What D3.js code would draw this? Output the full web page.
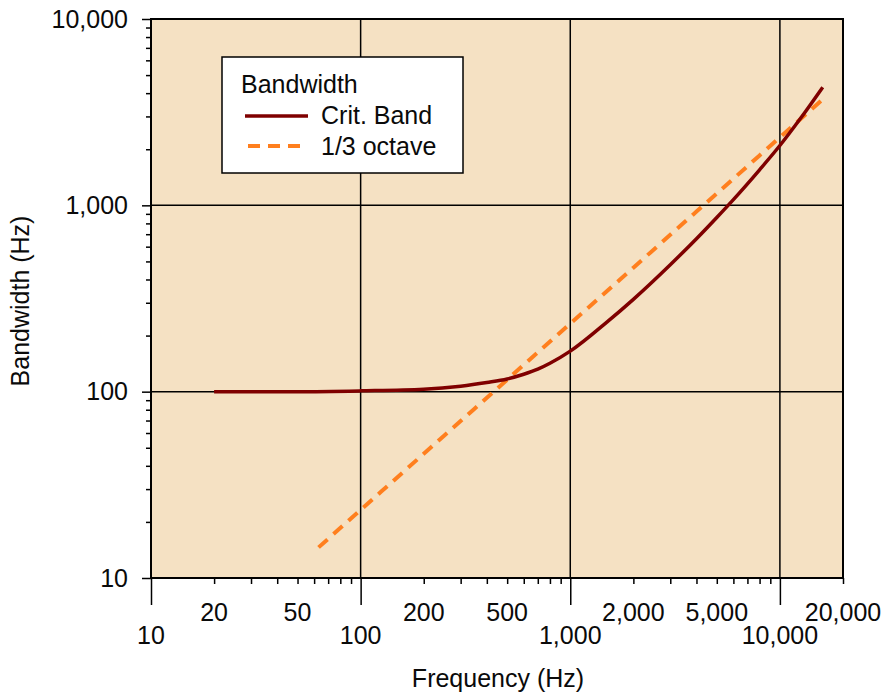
<!DOCTYPE html>
<html><head><meta charset="utf-8">
<script src="https://cdn.jsdelivr.net/npm/d3@7"></script>
<style>body{margin:0;background:#fff}svg{display:block}text{font-family:"Liberation Sans",Arial,sans-serif;fill:#0a0a0a}</style>
</head><body><svg id="c" width="883" height="693"></svg>
<script>
// Data
const critFreq = [20, 50, 100, 200, 300, 400, 500, 600, 700, 800, 1000, 1500, 2000, 3000, 4000, 5000, 6000, 8000, 10000, 12500, 16000];
const critBW   = [100, 100, 101, 103, 107, 112, 117, 124, 132, 142, 165, 237, 313, 480, 662, 861, 1074, 1552, 2094, 2913, 4300];
const octFreq  = [63, 125, 250, 500, 1000, 2000, 4000, 8000, 16000];
const octBW    = [14.6, 29, 58, 116, 232, 463, 926, 1853, 3706];
const xMajor = [10, 100, 1000, 10000];
const xMinorLabeled = [20, 50, 200, 500, 2000, 5000, 20000];
const yMajor = [10, 100, 1000, 10000];
const seriesNames = ["Crit. Band", "1/3 octave"];

const svg = d3.select("#c");
const L = 151, R = 843, T = 19, B = 578;
const x = d3.scaleLog().domain([10, 20000]).range([L, R]);
const y = d3.scaleLog().domain([10, 10000]).range([B, T]);
const fmt = d3.format(",");

svg.append("rect").attr("x", L).attr("y", T).attr("width", R - L).attr("height", B - T).attr("fill", "#f5e1c3");

// grid
svg.append("g").selectAll("line").data(xMajor.slice(1)).join("line")
  .attr("x1", d => x(d)).attr("x2", d => x(d)).attr("y1", T).attr("y2", B)
  .attr("stroke", "#000").attr("stroke-width", 1.5);
svg.append("g").selectAll("line").data(yMajor.slice(1, 3)).join("line")
  .attr("y1", d => y(d)).attr("y2", d => y(d)).attr("x1", L).attr("x2", R)
  .attr("stroke", "#000").attr("stroke-width", 1.5);

// minor ticks
const xMinor = [];
for (let dec = 10; dec <= 10000; dec *= 10) for (let k = 2; k <= 9; k++) { if (dec * k <= 20000) xMinor.push(dec * k); }
const yMinor = [];
for (let dec = 10; dec < 10000; dec *= 10) for (let k = 2; k <= 9; k++) yMinor.push(dec * k);

const xAxisMinor = d3.axisBottom(x).tickValues(xMinor).tickSize(6).tickFormat("");
const xAxisMajor = d3.axisBottom(x).tickValues(xMajor).tickSize(27).tickFormat("");
const gxm = svg.append("g").attr("transform", `translate(0,${B})`).call(xAxisMinor);
const gxM = svg.append("g").attr("transform", `translate(0,${B})`).call(xAxisMajor);
[gxm, gxM].forEach(g => { g.select(".domain").remove(); g.selectAll("line").attr("stroke", "#000").attr("stroke-width", 1.5); });

const yAxisMinor = d3.axisLeft(y).tickValues(yMinor).tickSize(5).tickFormat("");
const yAxisMajor = d3.axisLeft(y).tickValues(yMajor).tickSize(9).tickFormat(fmt);
const gym = svg.append("g").attr("transform", `translate(${L},0)`).call(yAxisMinor);
const gyM = svg.append("g").attr("transform", `translate(${L},0)`).call(yAxisMajor);
[gym, gyM].forEach(g => { g.select(".domain").remove(); g.selectAll("line").attr("stroke", "#000").attr("stroke-width", 1.5); });
gyM.selectAll("text").attr("x", -23).attr("font-size", 25).attr("font-family", "Liberation Sans, Arial, sans-serif").attr("fill", "#0a0a0a");

// x tick labels
svg.append("g").selectAll("text").data(xMinorLabeled).join("text")
  .attr("x", d => x(d)).attr("y", 621).attr("text-anchor", "middle").attr("font-size", 25).text(fmt);
svg.append("g").selectAll("text").data(xMajor).join("text")
  .attr("x", d => x(d)).attr("y", 644).attr("text-anchor", "middle").attr("font-size", 25).text(fmt);

// frame
svg.append("rect").attr("x", L).attr("y", T).attr("width", R - L).attr("height", B - T)
  .attr("fill", "none").attr("stroke", "#000").attr("stroke-width", 2);

// lines
const critData = critFreq.map((f, i) => [f, critBW[i]]);
const octData = octFreq.map((f, i) => [f, octBW[i]]);
const line = d3.line().x(d => x(d[0])).y(d => y(d[1])).curve(d3.curveMonotoneX);
svg.append("path").datum(octData).attr("d", line).attr("fill", "none")
  .attr("stroke", "#ff7f1e").attr("stroke-width", 4).attr("stroke-dasharray", "12,8");
svg.append("path").datum(critData).attr("d", line).attr("fill", "none")
  .attr("stroke", "#7f0000").attr("stroke-width", 3.5);

// legend
const lg = svg.append("g");
lg.append("rect").attr("x", 222).attr("y", 57).attr("width", 241).attr("height", 116)
  .attr("fill", "#fff").attr("stroke", "#000").attr("stroke-width", 1.5);
lg.append("text").attr("x", 241).attr("y", 93).attr("font-size", 25).text("Bandwidth");
lg.append("line").attr("x1", 245).attr("x2", 308).attr("y1", 116).attr("y2", 116)
  .attr("stroke", "#7f0000").attr("stroke-width", 3.5);
lg.append("line").attr("x1", 248).attr("x2", 308).attr("y1", 146).attr("y2", 146)
  .attr("stroke", "#ff7f1e").attr("stroke-width", 4).attr("stroke-dasharray", "12,8");
lg.append("text").attr("x", 321).attr("y", 124).attr("font-size", 25).text(seriesNames[0]);
lg.append("text").attr("x", 321).attr("y", 155).attr("font-size", 25).text(seriesNames[1]);

// axis titles
svg.append("text").attr("x", 498).attr("y", 687).attr("text-anchor", "middle").attr("font-size", 25).text("Frequency (Hz)");
svg.append("text").attr("transform", "translate(29,301) rotate(-90)").attr("text-anchor", "middle").attr("font-size", 25).text("Bandwidth (Hz)");
</script></body></html>
